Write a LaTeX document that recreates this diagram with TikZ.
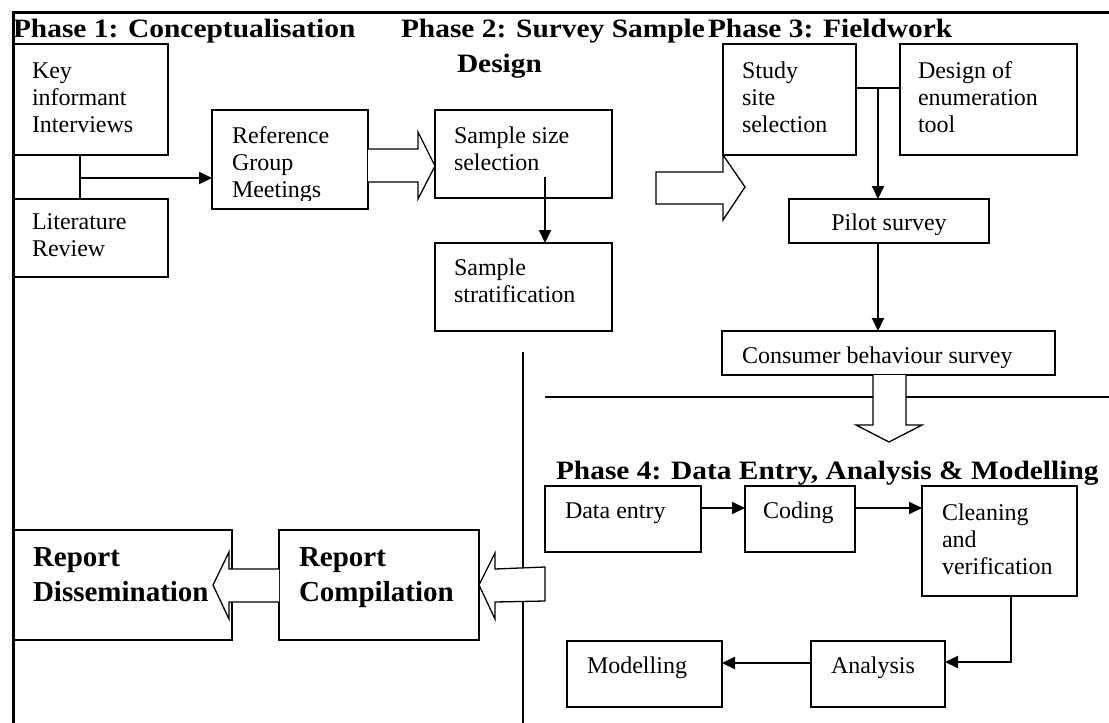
\documentclass[tikz,border=0pt]{standalone}
\usepackage{fontspec}
\setmainfont{Liberation Serif}
\newfontfamily\headfont[FakeStretch=1.11]{Liberation Serif}
\usetikzlibrary{arrows.meta,calc}
\tikzset{
  box/.style={draw, line width=1.3pt, inner sep=0pt, outer sep=0pt, anchor=north west},
  txt/.style={inner sep=0pt, outer sep=0pt, align=left, anchor=north west, font=\fontsize{24}{27}\selectfont},
  stxt/.style={inner sep=0pt, outer sep=0pt, anchor=base west, font=\fontsize{24}{27}\selectfont},
  rtxt/.style={inner sep=0pt, outer sep=0pt, align=left, anchor=north west, font=\bfseries\fontsize{29}{35}\selectfont},
  head/.style={inner sep=0pt, outer sep=0pt, anchor=base west, font=\headfont\bfseries\fontsize{26.5}{34}\selectfont},
  conn/.style={line width=2pt, -{Triangle[length=13pt,width=12pt]}},
  thinline/.style={line width=1.3pt},
  blk/.style={draw, line width=1.3pt, fill=white, line join=miter},
  frame/.style={line width=3pt}
}
\begin{document}
\begin{tikzpicture}[x=1pt, y=-1pt]
\useasboundingbox (0,0) rectangle (1109,723);
% frame
\draw[frame] (13,723) -- (13,12) -- (1109,12);
% headings
\node[head] (h1) at (13,37) {Phase 1: Conceptualisation};
\node[head] (h2) at (401,37) {Phase 2: Survey Sample};
\node[head] (h2b) at (457,72) {Design};
\node[head] (h3) at (708,37) {Phase 3: Fieldwork};
\node[head] (h4) at (556,479) {Phase 4: Data Entry, Analysis \& Modelling};
% boxes
\node[box, minimum width=155, minimum height=111] (key) at (13,44) {};
\node[box, minimum width=155, minimum height=78] (lit) at (13,199) {};
\node[box, minimum width=156, minimum height=99] (ref) at (212,110) {};
\node[box, minimum width=177, minimum height=88] (ss) at (435,110) {};
\node[box, minimum width=177, minimum height=88] (strat) at (435,243) {};
\node[box, minimum width=133, minimum height=111] (study) at (723,44) {};
\node[box, minimum width=177, minimum height=111] (design) at (900,44) {};
\node[box, minimum width=200, minimum height=44] (pilot) at (789,199) {};
\node[box, minimum width=333, minimum height=44] (cons) at (722,331) {};
\node[box, minimum width=156, minimum height=66] (de) at (545,486) {};
\node[box, minimum width=110, minimum height=66] (cod) at (745,486) {};
\node[box, minimum width=155, minimum height=110] (cl) at (922,486) {};
\node[box, minimum width=134, minimum height=66] (ana) at (811,641) {};
\node[box, minimum width=155, minimum height=66] (mod) at (567,641) {};
\node[box, minimum width=200, minimum height=110] (comp) at (279,530) {};
\node[box, minimum width=219, minimum height=110] (diss) at (13,530) {};
% dividers
\draw[thinline] (523,352) -- (523,723);
\draw[thinline] (545,397) -- (1109,397);
% connectors
\coordinate (kl) at (80,178);
\draw[thinline] (kl |- key.south) -- (kl |- lit.north);
\draw[conn] (kl) -- (kl -| ref.west);
\coordinate (ssa) at (545,177);
\draw[conn] (ssa) -- (ssa |- strat.north);
\coordinate (sd) at (878,88);
\draw[thinline] (sd -| study.east) -- (sd -| design.west);
\draw[conn] (sd) -- (sd |- pilot.north);
\draw[conn] (sd |- pilot.south) -- (sd |- cons.north);
\coordinate (r1) at (0,508);
\draw[conn] (r1 -| de.east) -- (r1 -| cod.west);
\draw[conn] (r1 -| cod.east) -- (r1 -| cl.west);
\coordinate (c1) at (1011,662);
\draw[conn] (c1 |- cl.south) -- (c1) -- (c1 -| ana.east);
\coordinate (r2) at (0,663);
\draw[conn] (r2 -| ana.west) -- (r2 -| mod.east);
% block arrows
\draw[blk] (368,149) -- (418,149) -- (418,132) -- (435,166) -- (418,199) -- (418,182) -- (368,182);
\draw[blk] (656,172) -- (723,172) -- (723,155) -- (745,187) -- (723,220) -- (723,204) -- (656,204) -- cycle;
\draw[blk] (873,375) -- (873,425) -- (856,425) -- (889,442) -- (922,425) -- (906,425) -- (906,375);
\draw[blk] (545,567) -- (495,569) -- (495,553) -- (479,585) -- (495,619) -- (495,602) -- (545,601) -- cycle;
\draw[blk] (279,569) -- (229,569) -- (229,552) -- (213,585) -- (229,619) -- (229,602) -- (279,602);
% texts
\node[txt] (keyT) at (32,62.7) {Key\\informant\\Interviews};
\node[txt] (litT) at (32,213.7) {Literature\\Review};
\begin{scope}
\clip (212,110) rectangle (368,200);
\node[txt] (refT) at (232,126.7) {Reference\\Group\\Meetings};
\end{scope}
\node[txt] (ssT) at (454,126.7) {Sample size\\selection};
\node[txt] (stratT) at (454,258.7) {Sample\\stratification};
\node[txt] (studyT) at (742,61.7) {Study\\site\\selection};
\node[txt] (designT) at (918,61.7) {Design of\\enumeration\\tool};
\begin{scope}
\clip (789,199) rectangle (989,234);
\node[stxt, anchor=base] (pilotT) at (889,230) {Pilot survey};
\end{scope}
\begin{scope}
\clip (722,331) rectangle (1055,367);
\node[stxt] (consT) at (742,363) {Consumer behaviour survey};
\end{scope}
\node[stxt] (deT) at (565,518) {Data entry};
\node[stxt] (codT) at (763,518) {Coding};
\node[txt] (clT) at (942,503.7) {Cleaning\\and\\verification};
\node[stxt] (anaT) at (831,673) {Analysis};
\node[stxt] (modT) at (587,673) {Modelling};
\node[rtxt] (compT) at (299,547.7) {Report\\Compilation};
\node[rtxt] (dissT) at (33,547.7) {Report\\Dissemination};
\end{tikzpicture}
\end{document}
